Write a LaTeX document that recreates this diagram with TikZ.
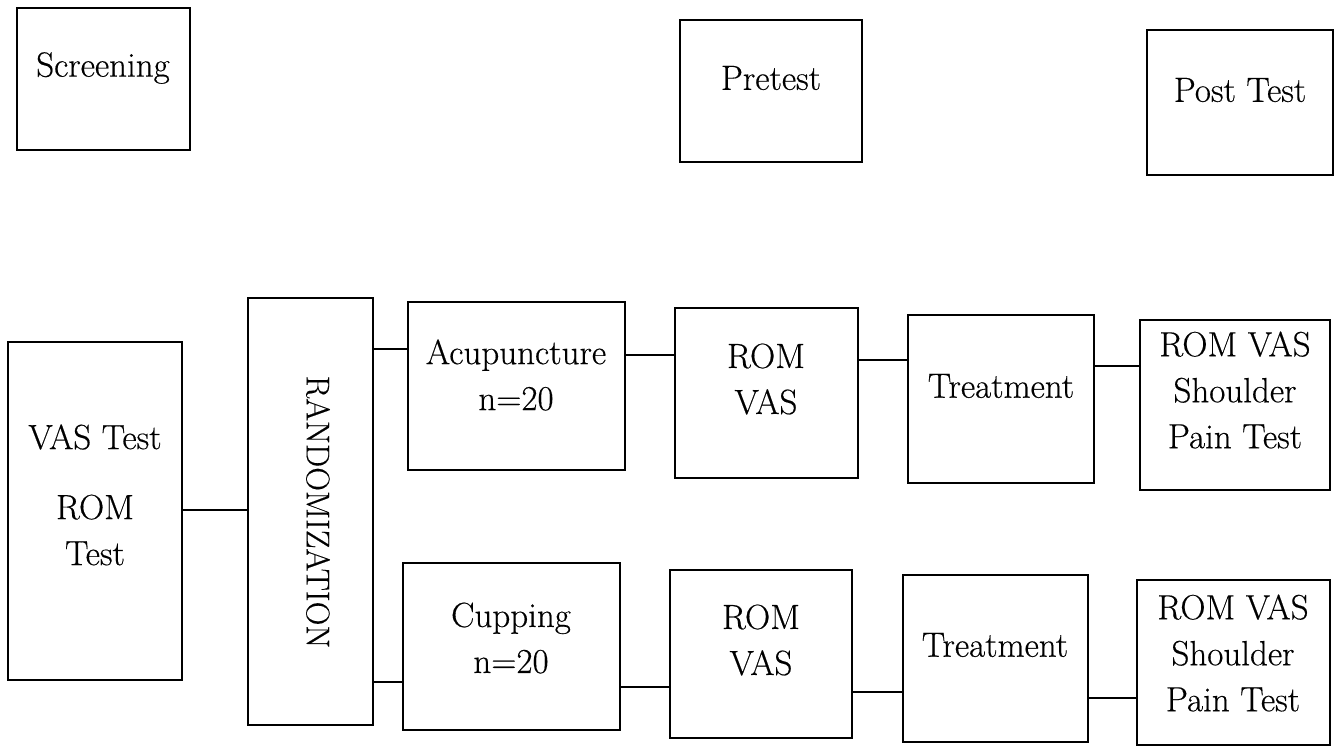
\documentclass[tikz,border=0pt]{standalone}
\usepackage{fontspec}
\setmainfont[FakeBold=0.4]{Latin Modern Roman}
\begin{document}
\begin{tikzpicture}[x=1pt,y=-1pt,
  box/.style={draw=black, line width=1.8pt, rectangle, inner sep=0pt},
  txt/.style={align=center, inner sep=0pt, font=\fontsize{35}{46}\selectfont},
  link/.style={draw=black, line width=1.8pt}]
\useasboundingbox (0,0) rectangle (1336,748);
% header boxes
\node[box, minimum width=173pt, minimum height=142pt] (scr) at (103.5,79) {};
\node[txt] (scrT) at (103,68) {Screening};
\node[box, minimum width=182pt, minimum height=142pt] (pre) at (771,91) {};
\node[txt] (preT) at (771,78) {Pretest};
\node[box, minimum width=186pt, minimum height=145pt] (post) at (1240,102.5) {};
\node[txt] (postT) at (1240,90) {Post Test};
% screening test box
\node[box, minimum width=174pt, minimum height=338pt] (vas) at (95,511) {};
\node[txt] (vasT1) at (95,437) {VAS Test};
\node[txt] (vasT2) at (95,530) {ROM\\Test};
% randomization
\node[box, minimum width=125pt, minimum height=427pt] (rand) at (310.5,511.5) {};
\node[txt, rotate=-90, font=\fontsize{33}{40}\selectfont] (randT) at (318,512) {RANDOMIZATION};
% top row
\node[box, minimum width=217pt, minimum height=168pt] (acu) at (516.5,386) {};
\node[txt] (acuT) at (516,375) {Acupuncture\\n=20};
\node[box, minimum width=183pt, minimum height=170pt] (rv1) at (766.5,393) {};
\node[txt] (rv1T) at (766,379) {ROM\\VAS};
\node[box, minimum width=186pt, minimum height=168pt] (tr1) at (1001,399) {};
\node[txt] (tr1T) at (1001,386) {Treatment};
\node[box, minimum width=190pt, minimum height=170pt] (pt1) at (1235,405) {};
\node[txt] (pt1T) at (1235,390) {ROM VAS\\Shoulder\\Pain Test};
% bottom row
\node[box, minimum width=217pt, minimum height=167pt] (cup) at (511.5,646.5) {};
\node[txt] (cupT) at (511,638) {Cupping\\n=20};
\node[box, minimum width=182pt, minimum height=168pt] (rv2) at (761,654) {};
\node[txt] (rv2T) at (761,640) {ROM\\VAS};
\node[box, minimum width=185pt, minimum height=167pt] (tr2) at (995.5,658.5) {};
\node[txt] (tr2T) at (995,645) {Treatment};
\node[box, minimum width=193pt, minimum height=165pt] (pt2) at (1233.5,662.5) {};
\node[txt] (pt2T) at (1233,653) {ROM VAS\\Shoulder\\Pain Test};
% connectors
\draw[link] (vas.east |- 0,510) -- (rand.west |- 0,510);
\draw[link] (rand.east |- 0,349) -- (acu.west |- 0,349);
\draw[link] (rand.east |- 0,682) -- (cup.west |- 0,682);
\draw[link] (acu.east |- 0,355) -- (rv1.west |- 0,355);
\draw[link] (rv1.east |- 0,360) -- (tr1.west |- 0,360);
\draw[link] (tr1.east |- 0,366) -- (pt1.west |- 0,366);
\draw[link] (cup.east |- 0,687) -- (rv2.west |- 0,687);
\draw[link] (rv2.east |- 0,692) -- (tr2.west |- 0,692);
\draw[link] (tr2.east |- 0,698) -- (pt2.west |- 0,698);
\end{tikzpicture}
\end{document}
